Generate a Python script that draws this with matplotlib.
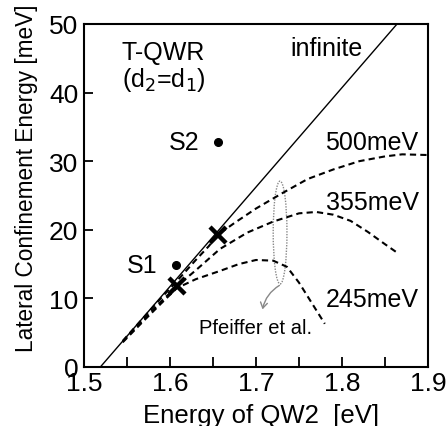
import matplotlib
matplotlib.use("Agg")
import matplotlib.pyplot as plt
from matplotlib.patches import Ellipse, FancyArrowPatch

plt.rcParams['font.family'] = ['Liberation Sans', 'DejaVu Sans']

# infinite barrier line
inf_x = [1.519, 1.864]
inf_y = [0.0, 50.0]

# dashed curves (barrier heights)
x500 = [1.545, 1.57, 1.59, 1.61, 1.63, 1.645, 1.656, 1.675, 1.70, 1.73, 1.76, 1.79, 1.82, 1.85, 1.87, 1.90]
y500 = [3.8, 7.3, 10.1, 12.8, 15.6, 17.6, 19.3, 21.0, 23.1, 25.3, 27.4, 28.8, 30.0, 30.7, 31.0, 30.9]
x355 = [1.545, 1.57, 1.59, 1.61, 1.63, 1.658, 1.69, 1.72, 1.75, 1.77, 1.79, 1.81, 1.83, 1.85, 1.866]
y355 = [3.7, 7.0, 9.6, 12.0, 14.1, 17.2, 19.6, 21.2, 22.4, 22.6, 22.2, 21.3, 19.7, 17.9, 16.5]
x245 = [1.545, 1.57, 1.59, 1.608, 1.63, 1.658, 1.68, 1.70, 1.72, 1.736, 1.75, 1.766, 1.78]
y245 = [3.6, 6.8, 9.3, 11.5, 12.8, 14.0, 15.0, 15.6, 15.5, 14.6, 12.3, 9.1, 6.3]
curve_labels = ['500meV', '355meV', '245meV']
curve_label_y = [32.8, 24.0, 9.9]

# crosses and sample points
cross_x = [1.608, 1.656]
cross_y = [11.8, 19.3]
samp_x = [1.607, 1.656]
samp_y = [14.8, 32.8]
samp_names = ['S1', 'S2']

xticks = [1.5, 1.6, 1.7, 1.8, 1.9]
yticks = [0, 10, 20, 30, 40, 50]

fig = plt.figure(figsize=(4.48, 4.27), dpi=100)
ax = fig.add_axes([84/448, (427-368)/427, 344/448, 343/427])

ax.plot(inf_x, inf_y, color='black', lw=1.0)
dash = (0, (3.0, 2.0))
for xs, ys in [(x500, y500), (x355, y355), (x245, y245)]:
    ax.plot(xs, ys, color='black', lw=1.5, linestyle=dash)

ax.plot(cross_x, cross_y, linestyle='none', marker='x', ms=11, mew=3.2, color='black')
ax.plot(samp_x, samp_y, linestyle='none', marker='o', ms=5.5, color='black')
for sx, sy, nm in zip(samp_x, samp_y, samp_names):
    ax.text(sx - 0.022, sy, nm, ha='right', va='center', fontsize=18)

for lab, ly in zip(curve_labels, curve_label_y):
    ax.text(1.889, ly, lab, ha='right', va='center', fontsize=18)

ax.text(1.74, 46.5, 'infinite', ha='left', va='center', fontsize=18)
ax.text(1.544, 45.9, 'T-QWR', ha='left', va='center', fontsize=18)
ax.text(1.544, 42.0, '(d$_2$=d$_1$)', ha='left', va='center', fontsize=18)

# Pfeiffer et al. ellipse + arrow
ax.add_patch(Ellipse((1.728, 19.6), 0.016, 15.0, fill=False, ec='#888888',
                     lw=1.0, ls=(0, (1, 1))))
arr = FancyArrowPatch((1.730, 12.1), (1.707, 8.0), connectionstyle='arc3,rad=0.25',
                      arrowstyle='->,head_length=4,head_width=2.5', color='#888888', lw=1.0)
ax.add_patch(arr)
ax.text(1.699, 5.8, 'Pfeiffer et al.', ha='center', va='center', fontsize=14.5)

ax.set_xlim(1.5, 1.9)
ax.set_ylim(0, 50)
ax.set_xticks(xticks)
ax.set_xticks([1.55, 1.65, 1.75, 1.85], minor=True)
ax.set_yticks(yticks)
ax.tick_params(axis='both', which='both', direction='in', labelsize=19,
               top=False, right=False, width=1.3)
ax.tick_params(axis='x', which='both', length=7, pad=3)
ax.tick_params(axis='y', which='both', length=6.5, pad=4)
for sp in ax.spines.values():
    sp.set_linewidth(1.5)

ax.set_xlabel('Energy of QW2  [eV]', fontsize=18.5)
ax.set_ylabel('Lateral Confinement Energy [meV]', fontsize=16.3)
ax.yaxis.set_label_coords(-0.135, 0.554)
ax.xaxis.set_label_coords(0.515, -0.105)
ax.xaxis.label.set_va('top')

fig.savefig('out.png', dpi=100)
